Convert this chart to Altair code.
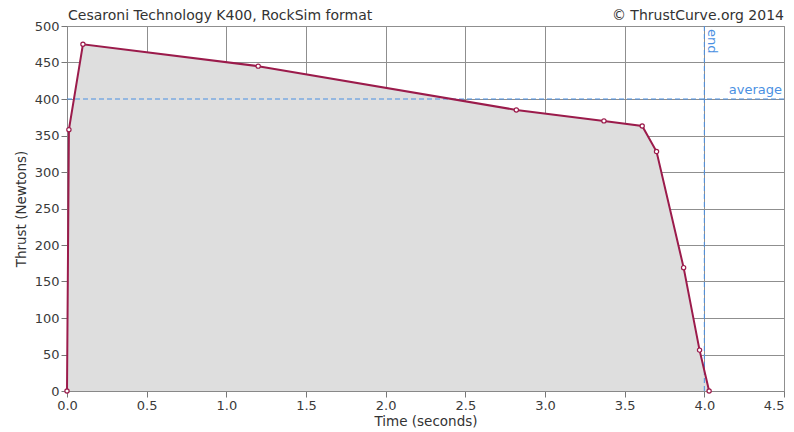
import altair as alt
import pandas as pd

time_s = [0.0, 0.012, 0.10, 1.20, 2.82, 3.37, 3.61, 3.70, 3.87, 3.97, 4.03]
thrust_n = [0, 358, 475, 445, 385, 370, 363, 328, 169, 56, 0]
average_n = 400
burn_end_s = 4.0
title_left = "Cesaroni Technology K400, RockSim format"
title_right = "© ThrustCurve.org 2014"

df = pd.DataFrame({"t": time_s, "f": thrust_n})
FONT = "DejaVu Sans"
RED = "#9b1b4b"
BLUE = "#4a90e2"

xs = alt.Scale(domain=[0, 4.5], nice=False, zero=False)
ys = alt.Scale(domain=[0, 500], nice=False)

xax = alt.Axis(values=[0, 0.5, 1, 1.5, 2, 2.5, 3, 3.5, 4, 4.5], format=".1f",
               title="Time (seconds)", grid=True, labelOverlap=False, labelFlush=False,
               labelAlign={"condition": {"test": "datum.value >= 4.5", "value": "right"},
                           "value": "center"})
yax = alt.Axis(values=list(range(0, 501, 50)), title="Thrust (Newtons)", grid=True,
               labelOverlap=False, labelFlush=False)

X = lambda f: alt.X(f, scale=xs, axis=xax)
Y = lambda f: alt.Y(f, scale=ys, axis=yax)

base = alt.Chart(df)
area = base.mark_area(color="#dedede", opacity=1).encode(x=X("t:Q"), y=Y("f:Q"))
line = base.mark_line(color=RED, strokeWidth=2).encode(x=X("t:Q"), y=Y("f:Q"))
pts = base.mark_point(shape="circle", filled=True, fill="white", stroke=RED,
                      strokeWidth=1.2, size=18, opacity=1).encode(x=X("t:Q"), y=Y("f:Q"))

avg_df = pd.DataFrame({"v": [average_n]})
avg_rule = alt.Chart(avg_df).mark_rule(color=BLUE, strokeDash=[5, 3], strokeWidth=1).encode(y=Y("v:Q"))
avg_text = alt.Chart(avg_df).mark_text(text="average", color=BLUE, font=FONT, fontSize=13,
                                        align="right", baseline="bottom", dx=-2, dy=-2).encode(
    y=Y("v:Q"), x=alt.value(717))

end_df = pd.DataFrame({"v": [burn_end_s]})
end_rule = alt.Chart(end_df).mark_rule(color=BLUE, strokeDash=[5, 3], strokeWidth=1).encode(x=X("v:Q"))
end_text = alt.Chart(end_df).mark_text(text="end", color=BLUE, font=FONT, fontSize=13,
                                        angle=90, align="left", baseline="bottom", dy=-1).encode(
    x=X("v:Q"), y=alt.value(3))

t1 = alt.Chart(pd.DataFrame({"a": [0]})).mark_text(text=title_left, font=FONT, fontSize=14,
                                                   color="#333333", align="left", baseline="alphabetic").encode(
    x=alt.value(1), y=alt.value(-6))
t2 = alt.Chart(pd.DataFrame({"a": [0]})).mark_text(text=title_right, font=FONT, fontSize=14,
                                                   color="#333333", align="right", baseline="alphabetic").encode(
    x=alt.value(717), y=alt.value(-6))

chart = alt.layer(area, avg_rule, end_rule, line, pts, avg_text, end_text, t1, t2).properties(
    width=717, height=365,
    autosize=alt.AutoSizeParams(type="none"),
    padding={"left": 59, "top": 18, "right": 2, "bottom": 41},
).configure_view(stroke="#888888", strokeWidth=1).configure_axis(
    gridColor="#8f8f8f", gridWidth=1, gridOpacity=1,
    domainColor="#888888", tickColor="#777777", tickSize=6,
    labelFont=FONT, labelFontSize=13, labelColor="#3a3a3a",
    titleFont=FONT, titleFontSize=13.5, titleFontWeight="normal", titleColor="#333333",
).configure_axisX(titlePadding=2, labelPadding=2).configure_axisY(titlePadding=6, labelPadding=2)

chart.save("out.html", embed_options={"renderer": "svg", "actions": False})
